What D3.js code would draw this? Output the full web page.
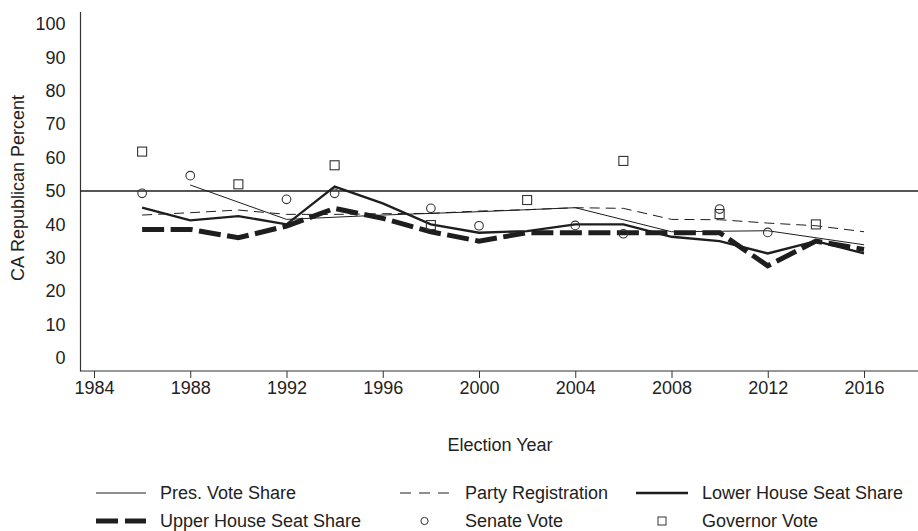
<!DOCTYPE html>
<html>
<head>
<meta charset="utf-8">
<script src="https://cdn.jsdelivr.net/npm/d3@7"></script>
<style>
  html, body { margin: 0; padding: 0; background: #fff; }
  svg { display: block; }
  text { font-family: "Liberation Sans", Arial, Helvetica, sans-serif; fill: #222; }
</style>
</head>
<body>
<svg id="chart" width="918" height="531"></svg>
<script>
// ---- data ----
const xTickYears = [1984, 1988, 1992, 1996, 2000, 2004, 2008, 2012, 2016];
const yTickValues = [0, 10, 20, 30, 40, 50, 60, 70, 80, 90, 100];

const presYears = [1988, 1992, 1996, 2000, 2004, 2008, 2012, 2016];
const presValues = [51.8, 41.5, 42.8, 43.8, 45.0, 37.8, 38.1, 33.9];

const regYears = [1986, 1988, 1990, 1992, 1994, 1996, 1998, 2000, 2002, 2004, 2006, 2008, 2010, 2012, 2014, 2016];
const regValues = [42.8, 43.5, 44.3, 43.0, 43.0, 43.2, 43.3, 44.0, 44.4, 45.0, 44.8, 41.5, 41.4, 40.4, 39.6, 37.8];

const lowerYears = [1986, 1988, 1990, 1992, 1994, 1996, 1998, 2000, 2002, 2004, 2006, 2008, 2010, 2012, 2014, 2016];
const lowerValues = [45.0, 41.2, 42.5, 40.0, 51.3, 46.3, 40.0, 37.5, 38.0, 40.0, 40.0, 36.3, 35.0, 31.3, 35.0, 31.3];

const upperYears = [1986, 1988, 1990, 1992, 1994, 1996, 1998, 2000, 2002, 2004, 2006, 2008, 2010, 2012, 2014, 2016];
const upperValues = [38.5, 38.5, 36.0, 39.5, 44.8, 41.8, 37.8, 35.0, 37.5, 37.5, 37.5, 37.5, 37.5, 27.6, 35.0, 32.5];

const senateYears = [1986, 1988, 1992, 1994, 1998, 2000, 2004, 2006, 2010, 2012];
const senateValues = [49.3, 54.6, 47.5, 49.3, 44.8, 39.6, 39.7, 37.2, 44.6, 37.6];

const govYears = [1986, 1990, 1994, 1998, 2002, 2006, 2010, 2014];
const govValues = [61.8, 52.0, 57.7, 39.8, 47.3, 59.0, 43.1, 40.0];

const legendLabels = ["Pres. Vote Share", "Party Registration", "Lower House Seat Share",
                      "Upper House Seat Share", "Senate Vote", "Governor Vote"];

// ---- layout ----
const svg = d3.select("#chart");
const ink = "#1e1e1e";
const axisLeft = 80.5, axisBottom = 371, axisTop = 12, plotRight = 918;

const x = d3.scaleLinear().domain([1984, 2016]).range([94, 864]);
const y = d3.scaleLinear().domain([0, 100]).range([358, 24]);

const zip = (xs, vs) => xs.map((yr, i) => ({ year: yr, value: vs[i] }));
const line = d3.line().x(d => x(d.year)).y(d => y(d.value));

// axes lines
svg.append("line").attr("x1", axisLeft).attr("x2", axisLeft).attr("y1", axisTop).attr("y2", axisBottom + 0.5)
  .attr("stroke", "#333").attr("stroke-width", 1.2);
svg.append("line").attr("x1", axisLeft).attr("x2", plotRight).attr("y1", axisBottom).attr("y2", axisBottom)
  .attr("stroke", "#333").attr("stroke-width", 1.2);

// x axis ticks
const xAxis = d3.axisBottom(x).tickValues(xTickYears).tickFormat(d3.format("d")).tickSize(7).tickPadding(3);
const gx = svg.append("g").attr("transform", `translate(0,${axisBottom})`).call(xAxis);
gx.select(".domain").remove();
gx.selectAll(".tick line").attr("stroke", "#333");
gx.selectAll(".tick text").style("font-size", "18px").attr("fill", "#222");

// y axis labels (no tick marks)
const yAxis = d3.axisLeft(y).tickValues(yTickValues).tickSize(0).tickPadding(15);
const gy = svg.append("g").attr("transform", `translate(${axisLeft},0)`).call(yAxis);
gy.select(".domain").remove();
gy.selectAll(".tick text").style("font-size", "18px").attr("fill", "#222");

// 50% reference line
svg.append("line").attr("x1", axisLeft).attr("x2", plotRight).attr("y1", y(50)).attr("y2", y(50))
  .attr("stroke", ink).attr("stroke-width", 1.3);

// axis titles
svg.append("text").attr("transform", `translate(24,188) rotate(-90)`).attr("text-anchor", "middle")
  .style("font-size", "18px").text("CA Republican Percent");
svg.append("text").attr("x", 500).attr("y", 451).attr("text-anchor", "middle")
  .style("font-size", "18px").text("Election Year");

// series lines
const styles = {
  pres:  { w: 1.0, dash: null },
  reg:   { w: 1.0, dash: "10,6" },
  lower: { w: 2.3, dash: null },
  upper: { w: 5, dash: "22,6.5" }
};
function drawLine(data, st) {
  svg.append("path").datum(data).attr("d", line).attr("fill", "none")
    .attr("stroke", ink).attr("stroke-width", st.w).attr("stroke-dasharray", st.dash)
    .attr("stroke-linejoin", "miter");
}
drawLine(zip(regYears, regValues), styles.reg);
drawLine(zip(presYears, presValues), styles.pres);
drawLine(zip(upperYears, upperValues), styles.upper);
drawLine(zip(lowerYears, lowerValues), styles.lower);

// markers
svg.append("g").selectAll("circle").data(zip(senateYears, senateValues)).join("circle")
  .attr("cx", d => x(d.year)).attr("cy", d => y(d.value)).attr("r", 4.3)
  .attr("fill", "none").attr("stroke", "#333").attr("stroke-width", 1.1);
const sq = 9;
svg.append("g").selectAll("rect").data(zip(govYears, govValues)).join("rect")
  .attr("x", d => x(d.year) - sq / 2).attr("y", d => y(d.value) - sq / 2)
  .attr("width", sq).attr("height", sq)
  .attr("fill", "none").attr("stroke", "#333").attr("stroke-width", 1.1);

// legend
const row1 = 493, row2 = 521;
const cols = [{ l: 96, r: 146, t: 160 }, { l: 400, r: 449, t: 465 }, { l: 636, r: 688, t: 702 }];
const legendItems = [
  { kind: "line", st: styles.pres, col: 0, row: row1 },
  { kind: "line", st: { w: 1.0, dash: "11,8" }, col: 1, row: row1 },
  { kind: "line", st: styles.lower, col: 2, row: row1 },
  { kind: "line", st: { w: 5, dash: "22,7" }, col: 0, row: row2 },
  { kind: "circle", col: 1, row: row2 },
  { kind: "square", col: 2, row: row2 }
];
const lg = svg.append("g");
legendItems.forEach((it, i) => {
  const c = cols[it.col];
  if (it.kind === "line") {
    lg.append("line").attr("x1", c.l).attr("x2", c.r).attr("y1", it.row).attr("y2", it.row)
      .attr("stroke", ink).attr("stroke-width", it.st.w).attr("stroke-dasharray", it.st.dash);
  } else if (it.kind === "circle") {
    lg.append("circle").attr("cx", (c.l + c.r) / 2).attr("cy", it.row).attr("r", 3.6)
      .attr("fill", "none").attr("stroke", "#333").attr("stroke-width", 1);
  } else {
    lg.append("rect").attr("x", (c.l + c.r) / 2 - 4).attr("y", it.row - 4).attr("width", 8).attr("height", 8)
      .attr("fill", "none").attr("stroke", "#333").attr("stroke-width", 1);
  }
  lg.append("text").attr("x", c.t).attr("y", it.row).attr("dy", "0.35em")
    .style("font-size", "18px").text(legendLabels[i]);
});
</script>
</body>
</html>
